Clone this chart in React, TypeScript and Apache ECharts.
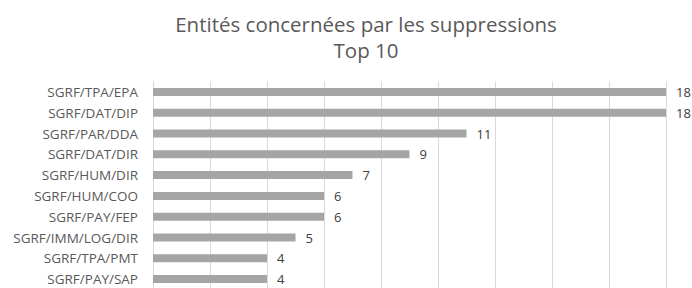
import React, { useEffect, useRef } from "react";
import * as echarts from "echarts";

const categories = [
  "SGRF/TPA/EPA",
  "SGRF/DAT/DIP",
  "SGRF/PAR/DDA",
  "SGRF/DAT/DIR",
  "SGRF/HUM/DIR",
  "SGRF/HUM/COO",
  "SGRF/PAY/FEP",
  "SGRF/IMM/LOG/DIR",
  "SGRF/TPA/PMT",
  "SGRF/PAY/SAP",
];
const values = [18, 18, 11, 9, 7, 6, 6, 5, 4, 4];
const titleLines = ["Entités concernées par les suppressions", "Top 10"];

export default function App() {
  const ref = useRef<HTMLDivElement>(null);
  useEffect(() => {
    if (!ref.current) return;
    const chart = echarts.init(ref.current, null, { renderer: "svg" });
    const font = "'Open Sans', 'Noto Sans', sans-serif";
    chart.setOption({
      animation: false,
      backgroundColor: "#ffffff",
      title: {
        text: titleLines.join("\n"),
        left: 361,
        top: 6,
        textAlign: "center",
        textStyle: {
          fontFamily: font,
          fontSize: 20.5,
          fontWeight: "normal",
          color: "#595959",
          lineHeight: 26,
        },
      },
      grid: { left: 153, right: 26, top: 81.5, height: 208, containLabel: false },
      xAxis: {
        type: "value",
        min: 0,
        max: 18,
        interval: 2,
        axisLabel: { show: false },
        axisLine: { show: false },
        axisTick: { show: false },
        splitLine: { show: true, lineStyle: { color: "#d9d9d9", width: 1 } },
      },
      yAxis: {
        type: "category",
        inverse: true,
        data: categories,
        axisLine: { show: true, lineStyle: { color: "#d9d9d9" } },
        axisTick: { show: false },
        axisLabel: {
          margin: 15,
          fontFamily: font,
          fontSize: 13.5,
          color: "#595959",
        },
      },
      series: [
        {
          type: "bar",
          data: values,
          barWidth: 8,
          itemStyle: { color: "#a5a5a5" },
          label: {
            show: true,
            position: "right",
            distance: 10,
            fontFamily: font,
            fontSize: 13,
            color: "#404040",
          },
        },
      ],
    });
    return () => chart.dispose();
  }, []);
  return (
    <div
      style={{
        position: "absolute",
        left: 0,
        top: 0,
        width: 692,
        height: 288,
        overflow: "hidden",
        background: "#fff",
      }}
    >
      <div ref={ref} style={{ width: 692, height: 300 }} />
    </div>
  );
}
